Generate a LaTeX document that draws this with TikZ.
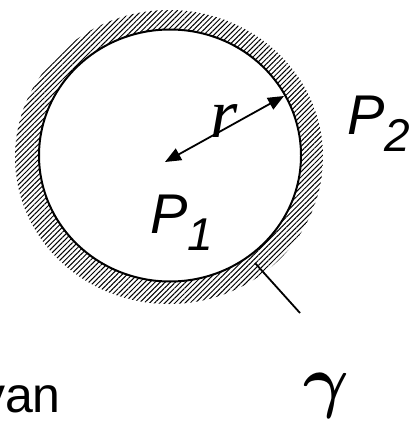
\documentclass[tikz,border=0pt]{standalone}
\usepackage{bm}
\usepackage{fontspec}
\setmainfont{Liberation Sans}
\newfontfamily\timesfont{Liberation Serif}
\usetikzlibrary{patterns.meta,arrows.meta}
\begin{document}
\begin{tikzpicture}[x=1pt,y=-1pt,
  lbl/.style={inner sep=0pt,anchor=base west},
  bigP/.style={lbl,font=\fontsize{56}{56}\selectfont\itshape},
  greek/.style={lbl,font=\fontsize{70}{70}\selectfont\timesfont\itshape}]
\useasboundingbox (0,0) rectangle (410,422);
% hatched wall
\fill[pattern={Lines[angle=45,distance=3.6pt,line width=1pt]},even odd rule]
  (169,157) ellipse [x radius=154,y radius=147]
  (170,155.5) ellipse [x radius=131,y radius=126];
\draw[line width=2pt] (170,155.5) ellipse [x radius=131,y radius=126];
\coordinate (O) at (165,162);
\coordinate (A) at (284,96);
\draw[{Triangle[length=16pt,width=13pt]}-{Triangle[length=16pt,width=13pt]},line width=1.8pt] (O) -- (A);
\node[greek] (rlbl) at (210,138) {r};
\node[bigP] (P1) at (150,233) {P\raisebox{-17pt}{\fontsize{46}{46}\selectfont 1}};
\node[bigP] (P2) at (347,135) {P\raisebox{-17pt}{\fontsize{46}{46}\selectfont 2}};
% leader to gamma
\coordinate (g1) at (255,263);
\coordinate (g2) at (300,313);
\draw[line width=1.8pt] (g1) -- (g2);
\node[lbl] (gam) at (303,404) {\scalebox{7}{$\bm{\gamma}$}};
\node[inner sep=0pt,anchor=base east,font=\fontsize{50}{50}\selectfont] (yan) at (61,412) {yan};
\end{tikzpicture}
\end{document}
